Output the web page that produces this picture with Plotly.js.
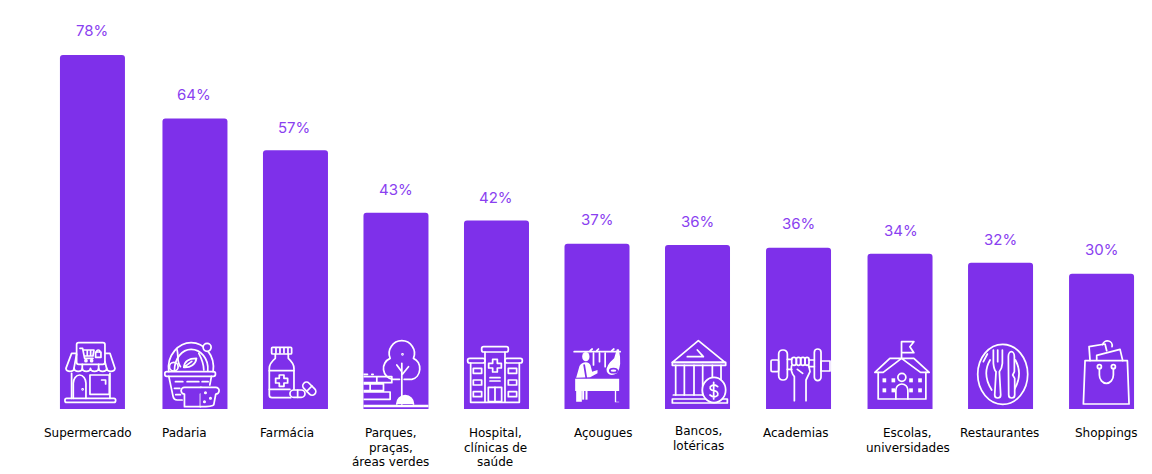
<!DOCTYPE html>
<html>
<head>
<meta charset="utf-8">
<script src="https://cdn.plot.ly/plotly-3.0.1.min.js"></script>
<style>html,body{margin:0;padding:0;background:#fff}#c{width:1152px;height:474px}</style>
</head>
<body>
<div id="c"></div>
<script>
const categories = ["Supermercado","Padaria","Farmácia","Parques, praças, áreas verdes","Hospital, clínicas de saúde","Açougues","Bancos, lotéricas","Academias","Escolas, universidades","Restaurantes","Shoppings"];
const categoryLines = [["Supermercado"],["Padaria"],["Farmácia"],["Parques,","praças,","áreas verdes"],["Hospital,","clínicas de","saúde"],["Açougues"],["Bancos,","lotéricas"],["Academias"],["Escolas,","universidades"],["Restaurantes"],["Shoppings"]];
const values = [78, 64, 57, 43.2, 41.5, 36.4, 36.1, 35.5, 34.2, 32.2, 29.8];
const valueLabels = ["78%","64%","57%","43%","42%","37%","36%","36%","34%","32%","30%"];
const barNudges = [0, 1.6, 1.2, 0.8, 0.4, 0, -0.4, -0.3, 0.3, -0.1, 0];
const labelShifts = [-4.5,-9,-7,-4.5,-1,6,1,-3,8,-1,5];
const labelDrops = [-15,-15,-15,-15,-15,-15,-13,-15,-15,-15,-15];
const valueLabelShifts = [0,-1,-1,0,0,0,0,0,1,0,0];
const valueLabelRaise = [13,12,11,12,12,13,12,13,12,12,13];
const purple = "#7e30ea";
const valueColor = "#8a3ff0";

const iconBoxes = [
 "180 27 195 210","486 27 195 210","789 27 195 210","1090 27 195 210","72 27 195 210","373 27 195 210","675 27 195 210","-72 27 195 210","233 27 195 210","534 27 195 210","837 27 195 210"
];
const iconBodies = [
 // store
 `<rect x="230" y="38" width="85" height="65" rx="6"/>
  <path d="M240 55h8l6 30h25M250 60h32l-3 18h-26M262 60v18M272 60v18"/><circle cx="258" cy="92" r="3"/><circle cx="275" cy="92" r="3"/>
  <rect x="287" y="66" width="16" height="16"/><path d="M290 66a5 6 0 0 1 10 0"/>
  <path d="M228 70H215L198 115a12.3 10 0 0 0 24.5 0a12.3 10 0 0 0 24.5 0a12.3 10 0 0 0 24.5 0a12.3 10 0 0 0 24.5 0a12.3 10 0 0 0 24.5 0a12.3 10 0 0 0 24.5 0L330 70H317"/>
  <path d="M222 115L230 72M247 115V103M296 115V103M320 115L315 95"/>
  <path d="M215 130V205M330 130V205"/>
  <path d="M220 205V160a19 25 0 0 1 38 0V205"/><circle cx="248" cy="178" r="1.5"/>
  <rect x="270" y="135" width="58" height="58"/><path d="M305 150h12v12"/>
  <rect x="195" y="205" width="152" height="12" rx="5"/>`,
 // basket
 `<path d="M505 125C498 75 535 38 572 38C610 38 645 75 638 125"/>
  <path d="M522 122C522 85 545 58 572 58C600 58 625 85 622 122"/><circle cx="620" cy="52" r="12" fill="${purple}"/>
  <rect x="493" y="125" width="152" height="14" rx="6"/>
  <path d="M550 112C552 92 570 85 588 85C586 102 570 114 550 112M550 112L574 94"/><circle cx="520" cy="110" r="13"/>
  <path d="M530 60C535 80 528 95 540 110M595 70C603 85 610 100 610 120"/>
  <path d="M505 139L518 200Q520 210 530 210H545M633 139L628 165"/>
  <path d="M525 155h22M560 155h35M605 155h18M522 175h16M526 194h14"/>
  <path fill="${purple}" d="M552 192V230H600V192a10 10 0 0 0 0-20H552a10 10 0 0 0 0 20z"/>
  <path fill="${purple}" d="M600 172H646a9 9 0 0 1 0 20L640 224Q636 230 600 230"/><circle cx="615" cy="188" r="2"/><circle cx="630" cy="205" r="2"/><circle cx="612" cy="215" r="2"/>`,
 // pills
 `<rect x="815" y="52" width="60" height="20" rx="3"/><path d="M828 55v14M840 55v14M852 55v14M864 55v14"/>
  <path d="M826 72V85Q808 100 808 115V195Q808 203 816 203H872M865 72V85Q882 100 882 115V178"/>
  <path d="M808 122H882M808 178H870"/>
  <path d="M838 135h14v10h11v14h-11v10h-14v-10h-11v-14h11z"/>
  <rect x="870" y="180" width="45" height="22" rx="11" fill="${purple}"/><path d="M893 180v22"/>
  <rect x="905" y="165" width="46" height="22" rx="11" fill="${purple}" transform="rotate(45 928 176)"/><path d="M920 184L936 168"/>`,
 // park
 `<path d="M1212 148H1235A30 33 0 0 0 1240 85A38 38 0 1 0 1170 85A33 33 0 0 0 1178 148H1198"/>
  <path d="M1205 222V100M1205 125L1190 105M1205 135L1225 110"/><circle cx="1207" cy="73" r="1.5"/>
  <path d="M1090 133h12M1115 133h4M1090 140H1175V158H1090M1090 162H1150V182H1090M1090 186H1170V208H1090M1110 162V182M1130 140V158"/>
  <path d="M1190 222a25 25 0 0 1 50 0" fill="#fff"/><path d="M1090 228H1285" stroke-width="7"/>`,
 // hospital
 `<rect x="125" y="50" width="80" height="16" rx="6"/><path d="M135 66V215M195 66V215"/>
  <path d="M158 88h14v12h12v14h-12v12h-14v-12h-12v-14h12z"/><path d="M150 143h30M150 153h30"/>
  <rect x="145" y="172" width="40" height="43"/><path d="M165 172v43"/>
  <rect x="83" y="85" width="52" height="14" rx="6"/><rect x="195" y="85" width="52" height="14" rx="6"/>
  <path d="M92 99V217H238V99"/>
  <rect x="100" y="115" width="25" height="15"/><rect x="100" y="150" width="25" height="15"/><rect x="100" y="185" width="25" height="15"/>
  <rect x="205" y="115" width="25" height="15"/><rect x="205" y="150" width="25" height="15"/><rect x="205" y="185" width="25" height="15"/>`,
 // butcher
 `<path d="M402 65H540M460 70V105M478 70V95M495 70V110M450 62l6-5M470 62l5-5M515 62l6-5" />
  <g fill="#fff" stroke="none"><ellipse cx="437" cy="80" rx="11" ry="14"/>
  <path d="M408 143L418 108Q425 97 437 97Q447 97 451 106L456 125L472 120V130L450 142z"/>
  <path d="M405 146H537V183H528V215H537V217H524V183H425V215H408V183H405z"/>
  <rect x="426" y="183" width="6" height="26"/><rect x="436" y="183" width="6" height="26"/>
  <path d="M530 58L522 85Q495 108 500 125Q510 142 530 130Q547 110 536 58z"/></g>
  <ellipse cx="520" cy="122" rx="11" ry="6" stroke="${purple}"/>
  <path d="M432 105L438 142" stroke="${purple}"/>`,
 // bank
 `<path d="M697 97L775 32L855 97z"/><path d="M742 80H790L772 60"/>
  <rect x="697" y="97" width="160" height="9"/>
  <path d="M707 106V195M733 106V195M762 106V195M788 106V195M817 106V150M843 106V150"/>
  <path d="M700 195H797"/><rect x="697" y="207" width="165" height="12"/>
  <ellipse cx="822" cy="180" rx="35" ry="38" fill="${purple}"/>
  <path d="M833 170Q822 160 811 170Q808 180 822 182Q836 185 833 196Q822 205 810 195M821 157V207"/>`,
 // gym
 `<rect x="73" y="57" width="20" height="95" rx="10"/><rect x="93" y="93" width="27" height="30"/>
  <rect x="-34" y="60" width="26" height="90" rx="12"/><rect x="-57" y="90" width="23" height="35" rx="4"/>
  <path d="M-8 88H5M-8 118H5M56 90H73M56 110H73"/>
  <rect x="5" y="82" width="14" height="24" rx="7"/><rect x="19" y="82" width="13" height="24" rx="6"/><rect x="32" y="82" width="13" height="24" rx="6"/><rect x="45" y="82" width="12" height="24" rx="6"/>
  <path d="M5 106Q0 125 13 140V212M56 106L60 125L48 150V212M22 118L38 130"/>`,
 // school
 `<path d="M335 85V35H372L360 50L372 68H335"/>
  <path d="M255 127H280L335 85L392 127H418L372 85H300z"/>
  <path d="M265 127V207H318V180a18 18 0 0 1 36 0V207H408V127"/>
  <circle cx="336" cy="142" r="12"/><path d="M318 207h36"/>
  <g fill="#fff" stroke="none"><rect x="278" y="145" width="11" height="12"/><rect x="305" y="145" width="11" height="12"/><rect x="358" y="145" width="11" height="12"/><rect x="385" y="145" width="11" height="12"/><rect x="278" y="175" width="11" height="12"/><rect x="305" y="175" width="11" height="12"/><rect x="358" y="175" width="11" height="12"/><rect x="385" y="175" width="11" height="12"/></g>`,
 // plate
 `<ellipse cx="638" cy="133" rx="75" ry="90"/>
  <path d="M600 90Q575 133 605 180M676 90Q700 133 672 180"/><path d="M580 95L592 72"/>
  <path fill="${purple}" d="M610 60V100Q612 120 618 125L614 195a9 9 0 0 0 18 0L628 125Q636 115 637 100V60"/><path d="M623 60V95"/>
  <path fill="${purple}" d="M655 80a9 15 0 0 1 18 0V125L668 135L674 145V195a9 9 0 0 1-18 0z"/>`,
 // bag
 `<path d="M900 92L897 50L945 42L950 62"/><path d="M938 44a14 14 0 0 1 28 6"/>
  <path d="M920 90V76L990 58L998 92"/>
  <path d="M885 92L880 222H1017L1012 92z"/>
  <circle cx="928" cy="110" r="6"/><circle cx="970" cy="110" r="6"/><path d="M928 116V135a21 25 0 0 0 42 0V116"/>`
];

function iconUri(box, body) {
  const svg = `<svg xmlns="http://www.w3.org/2000/svg" viewBox="${box}" preserveAspectRatio="none"><g fill="none" stroke="#fff" stroke-width="5.2" stroke-linejoin="round" stroke-linecap="round">${body}</g></svg>`;
  return "data:image/svg+xml;charset=utf-8," + encodeURIComponent(svg);
}

const plotHeight = 409;
const pxPerUnit = 4.54;
const bandPx = 1110 / 11;
const barWidth = 65 / bandPx;
const lineStep = 14.5;
const barOffsets = barNudges.map(n => n / bandPx - barWidth / 2);
const images = categories.map((c, i) => ({
  source: iconUri(iconBoxes[i], iconBodies[i]),
  xref: "x", yref: "y", x: i + barNudges[i] / bandPx, y: 0, xanchor: "center", yanchor: "bottom",
  sizex: barWidth, sizey: 70 / pxPerUnit, sizing: "stretch", layer: "above"
}));
const valueNotes = categories.map((c, i) => ({
  xref: "x", yref: "y", x: i, y: values[i], text: valueLabels[i], showarrow: false,
  xanchor: "center", yanchor: "bottom", yshift: valueLabelRaise[i], xshift: barNudges[i] + valueLabelShifts[i],
  font: {family: "Inter, sans-serif", size: 15, color: valueColor}
}));
const categoryNotes = categories.flatMap((c, i) => categoryLines[i].map((line, k) => ({
  xref: "x", yref: "y", x: i, y: 0, text: line, showarrow: false,
  xanchor: "center", yanchor: "top", align: "center", xshift: labelShifts[i], yshift: labelDrops[i] - k * lineStep,
  font: {family: "DejaVu Sans, sans-serif", size: 12, color: "#000"}
})));

Plotly.newPlot("c", [{
  type: "bar", x: categories, y: values,
  width: barWidth, offset: barOffsets,
  marker: {color: purple, cornerradius: 3, line: {width: 0}},
  hoverinfo: "skip"
}], {
  width: 1152, height: 474,
  margin: {l: 42, r: 0, t: 0, b: 65, pad: 0},
  showlegend: false,
  paper_bgcolor: "#fff", plot_bgcolor: "#fff",
  xaxis: {type: "category", showticklabels: false, showgrid: false, zeroline: false, showline: false, ticks: "", range: [-0.5, 10.5], fixedrange: true},
  yaxis: {visible: false, range: [0, plotHeight / pxPerUnit], fixedrange: true},
  images: images,
  annotations: valueNotes.concat(categoryNotes)
}, {displayModeBar: false, staticPlot: true});
</script>
</body>
</html>
